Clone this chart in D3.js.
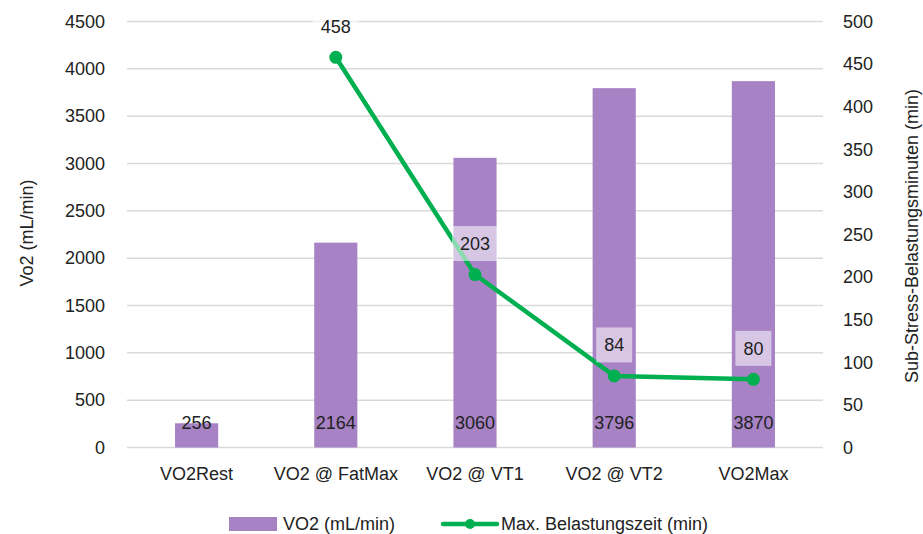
<!DOCTYPE html>
<html>
<head>
<meta charset="utf-8">
<script src="https://cdn.jsdelivr.net/npm/d3@7"></script>
<style>
  body { margin: 0; background: #fff; }
  text { font-family: "Liberation Sans", Arial, sans-serif; fill: #222; }
</style>
</head>
<body>
<svg width="923" height="534"></svg>
<script>
var categories = ["VO2Rest", "VO2 @ FatMax", "VO2 @ VT1", "VO2 @ VT2", "VO2Max"];
var vo2Values = [256, 2164, 3060, 3796, 3870];
var zeitValues = [null, 458, 203, 84, 80];
var leftTicks = [0, 500, 1000, 1500, 2000, 2500, 3000, 3500, 4000, 4500];
var rightTicks = [0, 50, 100, 150, 200, 250, 300, 350, 400, 450, 500];

var margin = {top: 21.5, right: 100, bottom: 86.5, left: 127},
    width = 923 - margin.left - margin.right,
    height = 534 - margin.top - margin.bottom;

var barColor = "#a783c5", lineColor = "#00b050", gridColor = "#d9d9d9";

var svg = d3.select("svg")
  .append("g").attr("transform", "translate(" + margin.left + "," + margin.top + ")");

var x = d3.scaleBand().domain(categories).range([0, width]).paddingInner(0.69).paddingOuter(0.345);
var yL = d3.scaleLinear().domain([0, 4500]).range([height, 0]);
var yR = d3.scaleLinear().domain([0, 500]).range([height, 0]);

// gridlines
svg.selectAll("line.grid").data(leftTicks).enter().append("line")
  .attr("x1", 0).attr("x2", width)
  .attr("y1", function(d) { return yL(d); }).attr("y2", function(d) { return yL(d); })
  .attr("stroke", gridColor).attr("stroke-width", 1.5);

// left axis
var axL = svg.append("g").attr("transform", "translate(-22,0)")
  .call(d3.axisLeft(yL).tickValues(leftTicks).tickFormat(d3.format("d")).tickSize(0).tickPadding(0));
axL.select(".domain").remove();
axL.selectAll("text").style("font-size", "18px").attr("fill", "#222");

// right axis
var axR = svg.append("g").attr("transform", "translate(" + (width + 20) + ",0)")
  .call(d3.axisRight(yR).tickValues(rightTicks).tickFormat(d3.format("d")).tickSize(0).tickPadding(0));
axR.select(".domain").remove();
axR.selectAll("text").style("font-size", "18px").attr("fill", "#222");

// bottom axis
var axB = svg.append("g").attr("transform", "translate(0," + height + ")")
  .call(d3.axisBottom(x).tickSize(0).tickPadding(20));
axB.select(".domain").remove();
axB.selectAll("text").style("font-size", "18px").attr("fill", "#222");

// bars
svg.selectAll("rect.bar").data(vo2Values).enter().append("rect")
  .attr("class", "bar")
  .attr("x", function(d, i) { return x(categories[i]); })
  .attr("width", x.bandwidth())
  .attr("y", function(d) { return yL(d); })
  .attr("height", function(d) { return height - yL(d); })
  .attr("fill", barColor);

svg.selectAll("text.barlab").data(vo2Values).enter().append("text")
  .attr("x", function(d, i) { return x(categories[i]) + x.bandwidth() / 2; })
  .attr("y", height - 25)
  .attr("dy", "0.35em")
  .attr("text-anchor", "middle")
  .style("font-size", "18px")
  .text(function(d) { return d; });

// line
var pts = [];
zeitValues.forEach(function(v, i) { if (v != null) pts.push([categories[i], v]); });

svg.append("path").datum(pts)
  .attr("fill", "none").attr("stroke", lineColor).attr("stroke-width", 4.5)
  .attr("stroke-linejoin", "round")
  .attr("d", d3.line()
    .x(function(d) { return x(d[0]) + x.bandwidth() / 2; })
    .y(function(d) { return yR(d[1]); }));

svg.selectAll("circle").data(pts).enter().append("circle")
  .attr("cx", function(d) { return x(d[0]) + x.bandwidth() / 2; })
  .attr("cy", function(d) { return yR(d[1]); })
  .attr("r", 6.5).attr("fill", lineColor);

// line labels with translucent box
var lab = svg.selectAll("g.lab").data(pts).enter().append("g")
  .attr("transform", function(d) { return "translate(" + (x(d[0]) + x.bandwidth() / 2) + "," + (yR(d[1]) - 31) + ")"; });
lab.each(function(d) {
  var g = d3.select(this);
  var w = String(d[1]).length * 10 + 16;
  g.append("rect").attr("x", -w / 2).attr("y", -17.5).attr("width", w).attr("height", 35)
    .attr("fill", "#fff").attr("fill-opacity", 0.55);
  g.append("text").attr("text-anchor", "middle").attr("dy", "0.35em")
    .style("font-size", "18px").text(d[1]);
});

// axis titles
d3.select("svg").append("text")
  .attr("transform", "translate(27,233) rotate(-90)")
  .attr("text-anchor", "middle").attr("dy", "0.35em")
  .style("font-size", "18px").text("Vo2 (mL/min)");
d3.select("svg").append("text")
  .attr("transform", "translate(912,236) rotate(-90)")
  .attr("text-anchor", "middle").attr("dy", "0.35em")
  .style("font-size", "18px").text("Sub-Stress-Belastungsminuten (min)");

// legend
var leg = d3.select("svg").append("g").attr("transform", "translate(0,524)");
leg.append("rect").attr("x", 229).attr("y", -7).attr("width", 48).attr("height", 14).attr("fill", barColor);
leg.append("text").attr("x", 283).attr("dy", "0.35em").style("font-size", "18px").text("VO2 (mL/min)");
leg.append("line").attr("x1", 443).attr("x2", 497).attr("y1", 0).attr("y2", 0)
  .attr("stroke", lineColor).attr("stroke-width", 4.5).attr("stroke-linecap", "round");
leg.append("circle").attr("cx", 470).attr("cy", 0).attr("r", 5).attr("fill", lineColor);
leg.append("text").attr("x", 501).attr("dy", "0.35em").style("font-size", "18px").text("Max. Belastungszeit (min)");
</script>
</body>
</html>
